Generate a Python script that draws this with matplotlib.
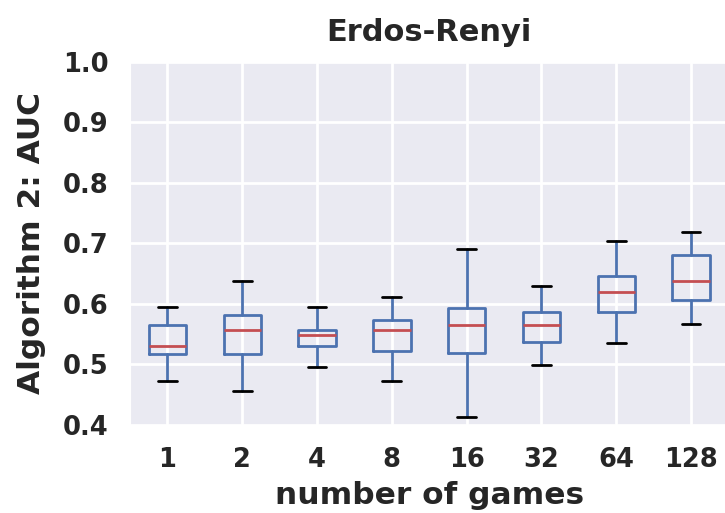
import matplotlib
matplotlib.use('agg')
import matplotlib.pyplot as plt
import seaborn as sns
import numpy as np

sns.set_style('darkgrid')
plt.rcParams['font.family'] = ['DejaVu Sans']
plt.rcParams['font.weight'] = 'bold'

#####
games = ['1', '2', '4', '8', '16', '32', '64', '128']
whislo = [0.473, 0.456, 0.495, 0.473, 0.413, 0.499, 0.536, 0.566]
q1 = [0.518, 0.518, 0.531, 0.522, 0.519, 0.537, 0.587, 0.607]
med = [0.531, 0.557, 0.548, 0.557, 0.565, 0.565, 0.620, 0.637]
q3 = [0.565, 0.582, 0.557, 0.574, 0.594, 0.586, 0.646, 0.680]
whishi = [0.595, 0.637, 0.595, 0.612, 0.691, 0.629, 0.704, 0.719]
#####

blue = '#4C72B0'
red = '#C44E52'
textc = '#262626'

stats = []
for i in range(len(games)):
    stats.append({'label': games[i], 'whislo': whislo[i], 'q1': q1[i], 'med': med[i],
                  'q3': q3[i], 'whishi': whishi[i], 'fliers': []})

fig = plt.figure(figsize=(7.25, 5.13), dpi=100)
ax = fig.add_axes([130/725, 88/513, 598.5/725, 363.3/513])
ax.bxp(stats, positions=np.arange(1, len(games)+1), widths=0.5, showfliers=False,
       boxprops=dict(color=blue, linewidth=2),
       whiskerprops=dict(color=blue, linewidth=2),
       capprops=dict(color='k', linewidth=2),
       medianprops=dict(color=red, linewidth=2))
ax.set_xlim(0.5, len(games)+0.5)
ax.set_ylim(0.4, 1.0)
ax.set_yticks([0.4, 0.5, 0.6, 0.7, 0.8, 0.9, 1.0])
ax.grid(True, color='white', linewidth=2)
ax.tick_params(axis='both', labelsize=18.5, colors=textc, length=0, pad=15.5)
for lab in ax.get_xticklabels() + ax.get_yticklabels():
    lab.set_fontweight('bold')
ax.set_title('Erdos-Renyi', fontsize=22, fontweight='bold', color=textc, pad=15)
ax.set_xlabel('number of games', fontsize=22.5, fontweight='bold', color=textc, labelpad=6)
ax.set_ylabel('Algorithm 2: AUC', fontsize=22.5, fontweight='bold', color=textc, labelpad=12)

plt.savefig('out.png', dpi=100)
plt.close('all')
